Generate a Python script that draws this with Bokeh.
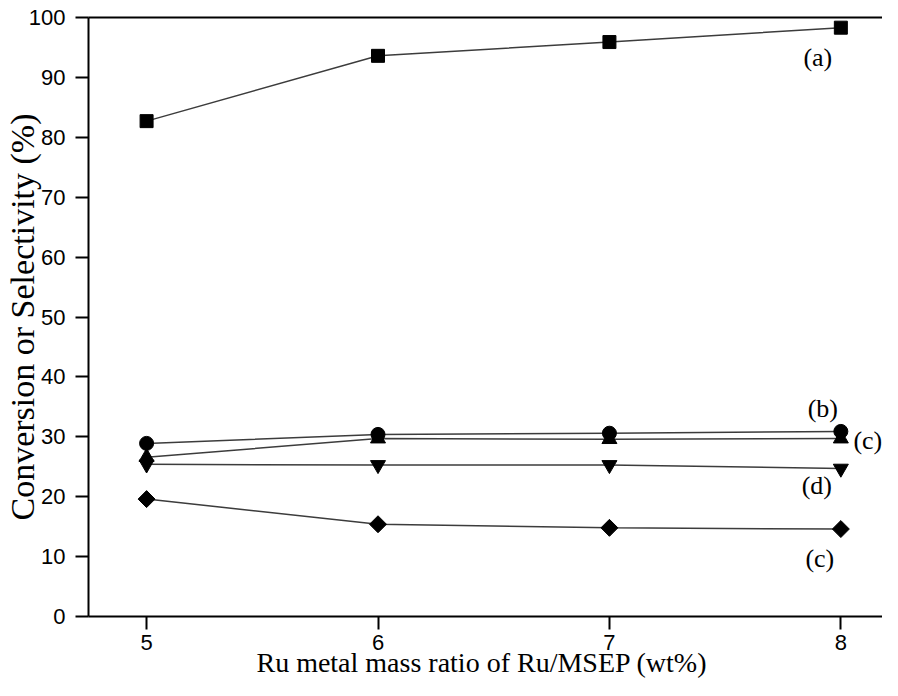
import numpy as np
from bokeh.plotting import figure
from bokeh.models import LinearAxis, FixedTicker, Range1d
from bokeh.core.properties import value
from bokeh.embed import file_html
from bokeh.resources import INLINE

# ---- data ----
ratio = [5, 6, 7, 8]
series_a = [82.7, 93.6, 95.9, 98.3]   # squares
series_b = [28.9, 30.4, 30.6, 30.9]   # circles
series_c = [26.6, 29.7, 29.6, 29.7]   # up triangles
series_d = [25.4, 25.3, 25.3, 24.7]   # down triangles
series_e = [19.6, 15.4, 14.8, 14.6]   # diamonds
series_labels = ["(a)", "(b)", "(c)", "(d)", "(c)"]
x_ticks = [5, 6, 7, 8]
y_ticks = [0, 10, 20, 30, 40, 50, 60, 70, 80, 90, 100]
x_title = "Ru metal mass ratio of  Ru/MSEP (wt%)"
y_title = "Conversion or Selectivity (%)"

SANS = "Liberation Sans"
SERIF = "Liberation Serif"

p = figure(width=882, height=680, output_backend="svg", toolbar_location=None,
           x_range=Range1d(4.749, 8.18), y_range=Range1d(0, 100),
           min_border_left=88, min_border_right=0, min_border_top=17,
           min_border_bottom=10)
p.outline_line_color = None
p.grid.visible = False
p.background_fill_color = "white"
p.border_fill_color = "white"

for ax in (p.xaxis[0], p.yaxis[0]):
    ax.axis_line_width = 2
    ax.axis_line_color = "black"
    ax.major_tick_line_width = 2
    ax.major_tick_line_color = "black"
    ax.major_tick_in = 0
    ax.major_tick_out = 13
    ax.minor_tick_line_color = None
    ax.major_label_text_font = SANS
    ax.major_label_text_font_size = "22px"
    ax.major_label_text_color = "black"
    ax.axis_label_text_font = SERIF
    ax.axis_label_text_font_style = "normal"
    ax.axis_label_text_color = "black"

p.xaxis[0].ticker = FixedTicker(ticks=x_ticks)
p.yaxis[0].ticker = FixedTicker(ticks=y_ticks)
p.xaxis[0].axis_label = x_title
p.yaxis[0].axis_label = y_title
p.xaxis[0].axis_label_text_font_size = "28px"
p.yaxis[0].axis_label_text_font_size = "34px"
p.xaxis[0].major_label_standoff = 5
p.xaxis[0].axis_label_standoff = -6
p.yaxis[0].major_label_standoff = 10
p.yaxis[0].axis_label_standoff = -15

top = LinearAxis(ticker=FixedTicker(ticks=[]), axis_line_width=2,
                 axis_line_color="black", major_tick_line_color=None,
                 minor_tick_line_color=None, major_label_text_font_size="0px")
p.add_layout(top, "above")

LINE = "#3c3c3c"
LW = 1.5
all_series = [series_a, series_b, series_c, series_d, series_e]
for s in all_series:
    p.line(ratio, s, line_color=LINE, line_width=LW)

p.scatter(ratio, series_a, marker="square", size=13, fill_color="black", line_color="black")
p.scatter(ratio, series_b, marker="circle", size=14, fill_color="black", line_color="black")
p.scatter(ratio, series_c, marker="triangle", size=15, fill_color="black", line_color="black")
p.scatter(ratio, series_d, marker="inverted_triangle", size=15, fill_color="black", line_color="black")
p.scatter(ratio, series_e, marker="square", size=12, angle=np.pi / 4,
          fill_color="black", line_color="black")

# labels anchored at the last point of each series, with pixel offsets
dx = [-23, -18, 27, -24, -21]
dy = [30, -23, 2, 17, 29]
lx = [ratio[-1]] * 5
ly = [s[-1] for s in all_series]
p.text(x=lx, y=ly, text=series_labels, x_offset=dx, y_offset=dy,
       text_font=value(SERIF), text_font_size="26px", text_color="black",
       text_align="center", text_baseline="middle")

open("out.html", "w").write(file_html(p, INLINE))
